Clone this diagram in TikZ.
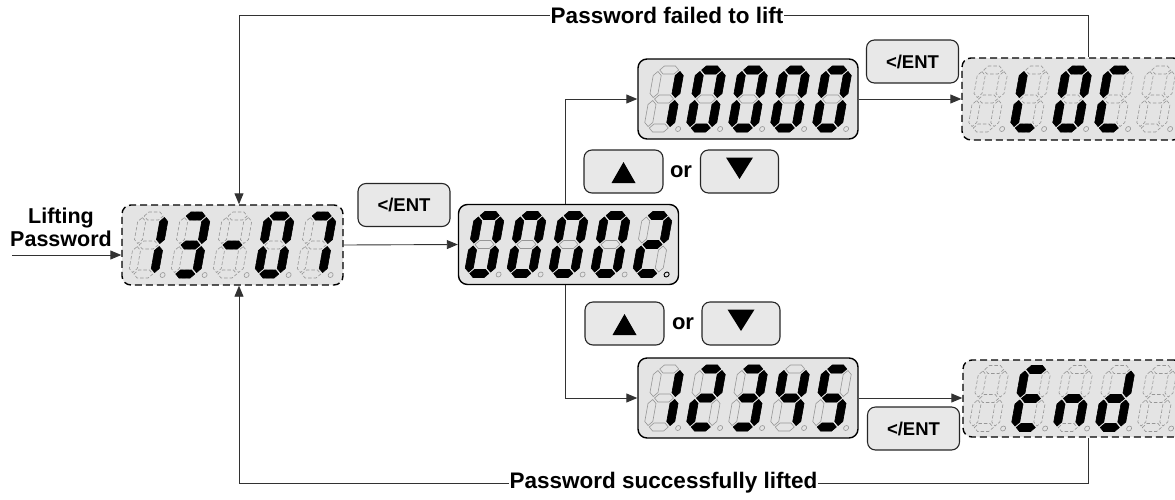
\documentclass[tikz,border=0pt]{standalone}
\usepackage{fontspec}
\setmainfont{Liberation Sans}
\usetikzlibrary{arrows.meta}
\definecolor{lcd}{RGB}{228,228,228}
\definecolor{btn}{RGB}{232,232,232}
\definecolor{ghost}{RGB}{150,150,150}
\definecolor{lineg}{RGB}{50,50,50}
\newcommand\sgA[1]{\path[#1] (-9.5,-29)--(-5.5,-33)--(5.5,-33)--(9.5,-29)--(5.5,-25)--(-5.5,-25)--cycle;}
\newcommand\sgG[1]{\path[#1] (-9.5,0)--(-5.5,-4)--(5.5,-4)--(9.5,0)--(5.5,4)--(-5.5,4)--cycle;}
\newcommand\sgD[1]{\path[#1] (-9.5,29)--(-5.5,25)--(5.5,25)--(9.5,29)--(5.5,33)--(-5.5,33)--cycle;}
\newcommand\sgF[1]{\path[#1] (-11,-27.5)--(-7,-23.5)--(-7,-5.5)--(-11,-1.5)--(-15,-5.5)--(-15,-23.5)--cycle;}
\newcommand\sgB[1]{\path[#1] (11,-27.5)--(15,-23.5)--(15,-5.5)--(11,-1.5)--(7,-5.5)--(7,-23.5)--cycle;}
\newcommand\sgE[1]{\path[#1] (-11,1.5)--(-7,5.5)--(-7,23.5)--(-11,27.5)--(-15,23.5)--(-15,5.5)--cycle;}
\newcommand\sgC[1]{\path[#1] (11,1.5)--(15,5.5)--(15,23.5)--(11,27.5)--(7,23.5)--(7,5.5)--cycle;}
\newcommand\sgX[1]{}
\newcommand\dig[5]{\begin{scope}[shift={(#1,#2)},xslant=0.18]
 \foreach \s in {A,B,C,D,E,F,G}{\csname sg\s\endcsname{#4}}
 \foreach \s in {#3}{\csname sg\s\endcsname{lit}}
 \path[#5] (19.5,30) circle[radius=2.5pt];
\end{scope}}
\tikzset{
 disp/.style={draw=black, line width=1.4pt, fill=lcd, rounded corners=9pt, minimum width=220pt, minimum height=80pt, inner sep=0pt},
 dispd/.style={disp, dash pattern=on 7pt off 4pt},
 btnbox/.style={draw=black!85, line width=1.1pt, fill=btn, rounded corners=8pt, minimum width=92pt, minimum height=43pt, inner sep=0pt, font=\fontsize{18.5}{20}\selectfont\bfseries},
 lit/.style={fill=black, draw=black, line width=0.6pt},
 gs/.style={draw=ghost, line width=0.6pt},
 gd/.style={draw=ghost, line width=0.6pt, dash pattern=on 3.5pt off 2pt},
 dpg/.style={draw=ghost, line width=0.6pt},
 dpk/.style={draw=black, line width=0.9pt},
 conn/.style={draw=lineg, line width=0.9pt},
 arr/.style={conn, -{Triangle[length=11pt,width=9pt]}},
 lbl/.style={font=\fontsize{22.5}{26}\selectfont\bfseries, fill=white, inner sep=1pt},
 ortext/.style={font=\fontsize{22}{24}\selectfont\bfseries, inner sep=0pt},
}
\begin{document}
\begin{tikzpicture}[x=1pt,y=-1pt]
\useasboundingbox (0,0) rectangle (1175,499);
\clip (0,0) rectangle (1175,499);
% displays
\node[dispd, minimum width=221pt] (A) at (232.5,245) {};
\node[disp] (B) at (568.5,244.5) {};
\node[disp] (C) at (748,99) {};
\node[dispd, minimum height=82pt] (D) at (1072,99) {};
\node[disp] (E) at (748,398) {};
\node[dispd, minimum height=77pt] (F) at (1073,398.5) {};
% 13-07
\dig{148.5}{245}{B,C}{gd}{dpg}
\dig{190.5}{245}{A,B,G,C,D}{gd}{dpg}
\dig{232.5}{245}{G}{gd}{dpg}
\dig{274.5}{245}{A,B,C,D,E,F}{gd}{dpg}
\dig{316.5}{245}{A,B,C}{gd}{dpg}
% 00002
\dig{484.5}{244.5}{A,B,C,D,E,F}{gs}{dpg}
\dig{526.5}{244.5}{A,B,C,D,E,F}{gs}{dpg}
\dig{568.5}{244.5}{A,B,C,D,E,F}{gs}{dpg}
\dig{610.5}{244.5}{A,B,C,D,E,F}{gs}{dpg}
\dig{652.5}{244.5}{A,B,G,E,D}{gs}{dpk}
% 10000
\dig{664}{99}{B,C}{gs}{dpg}
\dig{706}{99}{A,B,C,D,E,F}{gs}{dpg}
\dig{748}{99}{A,B,C,D,E,F}{gs}{dpg}
\dig{790}{99}{A,B,C,D,E,F}{gs}{dpg}
\dig{832}{99}{A,B,C,D,E,F}{gs}{dpg}
% LOC
\dig{988}{99}{X}{gd}{dpg}
\dig{1030}{99}{F,E,D}{gd}{dpg}
\dig{1072}{99}{A,B,C,D,E,F}{gd}{dpg}
\dig{1114}{99}{A,F,E,D}{gd}{dpg}
\dig{1156}{99}{X}{gd}{dpg}
% 12345
\dig{664}{398}{B,C}{gs}{dpg}
\dig{706}{398}{A,B,G,E,D}{gs}{dpg}
\dig{748}{398}{A,B,G,C,D}{gs}{dpg}
\dig{790}{398}{F,G,B,C}{gs}{dpg}
\dig{832}{398}{A,F,G,C,D}{gs}{dpg}
% End
\dig{989}{398.5}{X}{gd}{dpg}
\dig{1031}{398.5}{A,F,G,E,D}{gd}{dpg}
\dig{1073}{398.5}{C,E,G}{gd}{dpg}
\dig{1115}{398.5}{B,C,D,E,G}{gd}{dpg}
\dig{1157}{398.5}{X}{gd}{dpg}
% buttons
\node[btnbox] (K1) at (404,205) {</ENT};
\node[btnbox] (K2) at (912.5,61.5) {</ENT};
\node[btnbox] (K3) at (913.5,428.5) {</ENT};
\node[btnbox, minimum width=79pt] (U1) at (623.5,171.5) {};
\node[btnbox, minimum width=78pt] (D1) at (739.5,171.5) {};
\node[ortext] (or1) at (681,172) {or};
\node[btnbox, minimum width=79pt] (U2) at (624.5,323.5) {};
\node[btnbox, minimum width=78pt] (D2) at (741,323.5) {};
\node[ortext] (or2) at (683,324) {or};
\fill ([shift={(0,-9.5)}]U1.center) -- ([shift={(12,11.5)}]U1.center) -- ([shift={(-12,11.5)}]U1.center) -- cycle;
\fill ([shift={(-13.5,-14)}]D1.center) -- ([shift={(13.5,-14)}]D1.center) -- ([shift={(0,7.5)}]D1.center) -- cycle;
\fill ([shift={(0,-9.5)}]U2.center) -- ([shift={(12,11.5)}]U2.center) -- ([shift={(-12,11.5)}]U2.center) -- cycle;
\fill ([shift={(-13.5,-14)}]D2.center) -- ([shift={(13.5,-14)}]D2.center) -- ([shift={(0,7.5)}]D2.center) -- cycle;
% connectors
\coordinate (bx) at (565,0);
\coordinate (dx) at (1088,0);
\coordinate (ax) at (239,0);
\coordinate (ty) at (0,15);
\coordinate (by) at (0,483);
\coordinate (in) at (12,255);
\draw[arr] (A.east) -- (B.west);
\draw[arr] (B.north -| bx) |- (C.west);
\draw[arr] (B.south -| bx) |- (E.west);
\draw[arr] (C.east) -- (C.east -| D.west);
\draw[arr] (E.east) -- (E.east -| F.west);
\draw[arr] (D.north -| dx) |- (ax |- ty) -- (A.north -| ax);
\draw[arr] (F.south -| dx) |- (ax |- by) -- (A.south -| ax);
\draw[arr] (in) -- (in -| A.west);
\node[lbl] (L1) at (667,15) {Password failed to lift};
\node[lbl] (L2) at (663.5,483) {Password successfully lifted};
\node[font=\fontsize{21.5}{23}\selectfont\bfseries, align=center] (LP) at (61,227) {Lifting\\Password};
\end{tikzpicture}
\end{document}
